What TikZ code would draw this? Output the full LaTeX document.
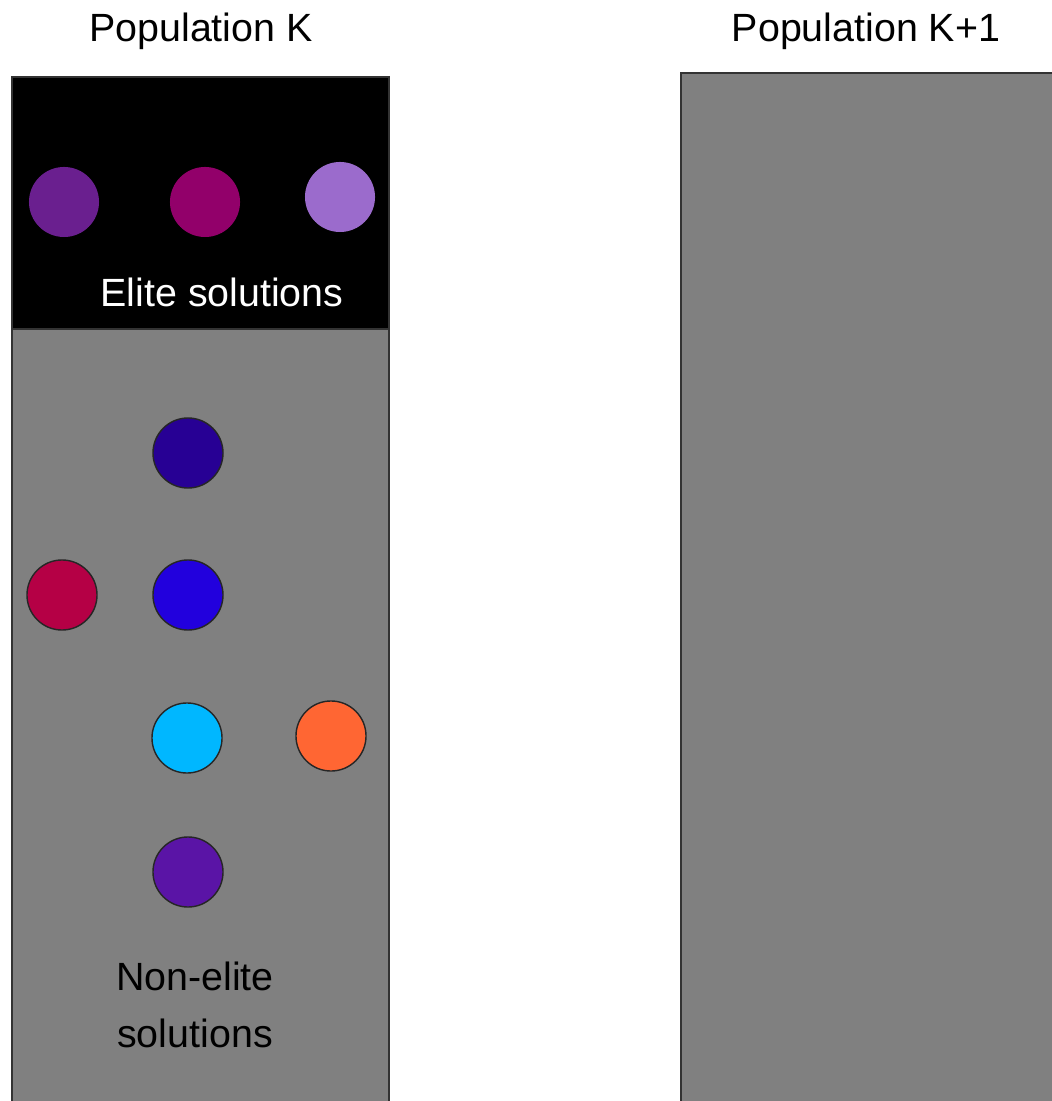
\documentclass[tikz,border=0pt]{standalone}
\usepackage{fontspec}
\setmainfont{Liberation Sans}
\usetikzlibrary{positioning}
\definecolor{eliteA}{HTML}{6A1F8F}
\definecolor{eliteB}{HTML}{92006A}
\definecolor{eliteC}{HTML}{9B6BCC}
\definecolor{solA}{HTML}{270094}
\definecolor{solB}{HTML}{B50045}
\definecolor{solC}{HTML}{2200DD}
\definecolor{solD}{HTML}{00B7FF}
\definecolor{solE}{HTML}{FF6633}
\definecolor{solF}{HTML}{5A14A6}
\tikzset{
  sol/.style={circle, minimum size=7mm, inner sep=0pt, draw=black!85, line width=.4pt},
  elite/.style={circle, minimum size=7mm, inner sep=0pt},
  lbl/.style={font=\fontsize{11.2}{16}\selectfont, align=center, inner sep=0pt}
}
\begin{document}
\begin{tikzpicture}[x=0.01cm, y=-0.01cm]
\useasboundingbox (0,0) rectangle (1051,1101);
\fill[white] (0,0) rectangle (1051,1101);
\filldraw[fill=black!50, draw=black!80, line width=.4pt] (12,329) rectangle (389,1120);
\filldraw[fill=black, draw=black!80, line width=.4pt] (12,77) rectangle (389,329);
\filldraw[fill=black!50, draw=black!80, line width=.4pt] (681,73) rectangle (1070,1120);
%
%
\node[lbl] (popk) at (201,31) {Population K};
\node[lbl] (popk1) at (866,31) {Population K+1};
\node[lbl, white] (elitetxt) at (222,292) {Elite solutions};
\node[lbl] (nonelitetxt) at (195,1005) {Non-elite\\solutions};
%
%
\node[elite, fill=eliteA] (e1) at (64,202) {};
\node[elite, fill=eliteB] (e2) at (205,202) {};
\node[elite, fill=eliteC] (e3) at (340,197) {};
%
%
\node[sol, fill=solA] (n1) at (188,453) {};
\node[sol, fill=solB] (n2) at (62,595) {};
\node[sol, fill=solC] (n3) at (188,595) {};
\node[sol, fill=solD] (n4) at (187,738) {};
\node[sol, fill=solE] (n5) at (331,736) {};
\node[sol, fill=solF] (n6) at (188,872) {};
%
%
\end{tikzpicture}
\end{document}
